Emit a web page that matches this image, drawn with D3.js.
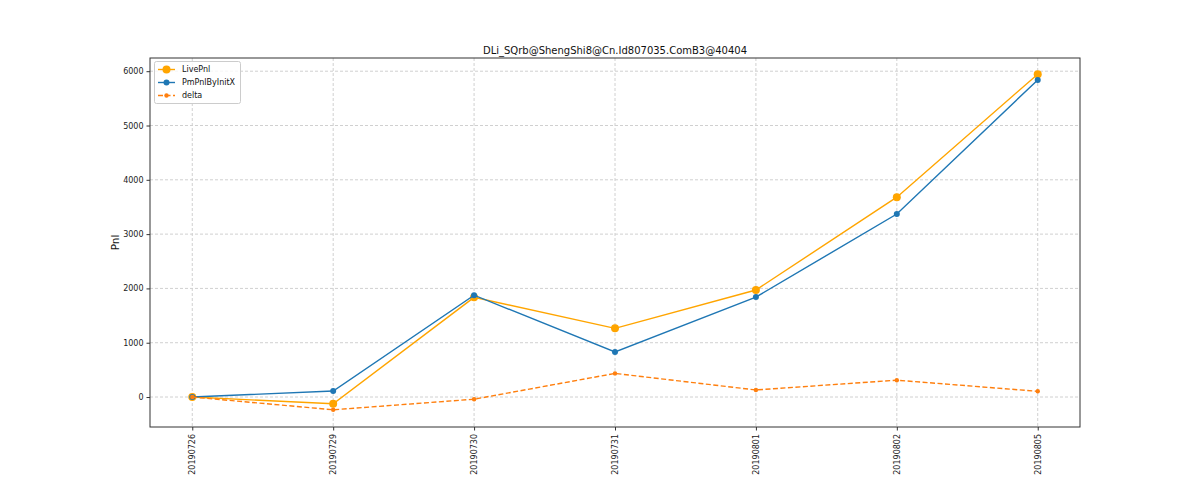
<!DOCTYPE html>
<html>
<head>
<meta charset="utf-8">
<script src="https://cdn.jsdelivr.net/npm/d3@7"></script>
<style>
  body { margin: 0; background: #fff; }
  text { font-family: "DejaVu Sans", sans-serif; }
</style>
</head>
<body>
<svg id="chart" width="1200" height="480"></svg>
<script>
// data
const dates = ["20190726", "20190729", "20190730", "20190731", "20190801", "20190802", "20190805"];
const livePnl = [0, -125, 1835, 1265, 1970, 3680, 5945];
const pmPnlByInitX = [0, 110, 1875, 830, 1840, 3370, 5840];
const delta = [0, -235, -40, 435, 130, 310, 105];
const yTicks = [0, 1000, 2000, 3000, 4000, 5000, 6000];
const title = "DLi_SQrb@ShengShi8@Cn.Id807035.ComB3@40404";

const svg = d3.select("#chart");
const axLeft = 150, axRight = 1080, axTop = 58, axBottom = 427;

// categorical x with matplotlib-like 5% margins
const x = d3.scaleLinear().domain([-0.3, dates.length - 1 + 0.3]).range([axLeft, axRight]);
const y = d3.scaleLinear().domain([-552, 6243]).range([axBottom, axTop]);

// grid
svg.append("g")
  .selectAll("line")
  .data(dates)
  .enter()
  .append("line")
  .attr("x1", (d, i) => x(i)).attr("x2", (d, i) => x(i))
  .attr("y1", axTop).attr("y2", axBottom)
  .attr("stroke", "#d0d0d0").attr("stroke-width", 1)
  .attr("stroke-dasharray", "3,2");

svg.append("g")
  .selectAll("line")
  .data(yTicks)
  .enter()
  .append("line")
  .attr("x1", axLeft).attr("x2", axRight)
  .attr("y1", (d) => y(d)).attr("y2", (d) => y(d))
  .attr("stroke", "#d0d0d0").attr("stroke-width", 1)
  .attr("stroke-dasharray", "3,2");

// axes
const xAxis = d3.axisBottom(x)
  .tickValues(d3.range(dates.length))
  .tickFormat((i) => dates[i])
  .tickSize(3.5).tickPadding(2);
const gx = svg.append("g").attr("transform", `translate(0,${axBottom})`).call(xAxis);
gx.select(".domain").remove();
gx.selectAll("line").attr("stroke", "#333");
gx.selectAll("text")
  .attr("font-size", 8)
  .attr("fill", "#222")
  .attr("text-anchor", "end")
  .attr("dy", "0.32em")
  .attr("transform", "rotate(-90)")
  .attr("x", -7)
  .attr("y", 0);

const yAxis = d3.axisLeft(y).tickValues(yTicks).tickFormat(d3.format("d")).tickSize(3.5).tickPadding(3);
const gy = svg.append("g").attr("transform", `translate(${axLeft},0)`).call(yAxis);
gy.select(".domain").remove();
gy.selectAll("line").attr("stroke", "#333");
gy.selectAll("text").attr("font-size", 8).attr("fill", "#222");

svg.append("rect")
  .attr("x", axLeft).attr("y", axTop)
  .attr("width", axRight - axLeft).attr("height", axBottom - axTop)
  .attr("fill", "none").attr("stroke", "#333").attr("stroke-width", 1);

// title and y label
svg.append("text")
  .attr("x", (axLeft + axRight) / 2).attr("y", 54)
  .attr("text-anchor", "middle")
  .attr("font-size", 10)
  .attr("fill", "#111")
  .text(title);

svg.append("text")
  .attr("transform", `translate(119,${(axTop + axBottom) / 2}) rotate(-90)`)
  .attr("text-anchor", "middle")
  .attr("font-size", 10.5)
  .attr("fill", "#111")
  .text("Pnl");

// series
const series = [
  { name: "LivePnl", values: livePnl, color: "#ffa500", r: 4, dash: null },
  { name: "PmPnlByInitX", values: pmPnlByInitX, color: "#1f77b4", r: 3, dash: null },
  { name: "delta", values: delta, color: "#ff7f0e", r: 2.2, dash: "5,2.5" }
];

const line = d3.line().x((d, i) => x(i)).y((d) => y(d));

series.forEach((s) => {
  svg.append("path")
    .datum(s.values)
    .attr("d", line)
    .attr("fill", "none")
    .attr("stroke", s.color)
    .attr("stroke-width", 1.4)
    .attr("stroke-dasharray", s.dash);
  svg.append("g")
    .selectAll("circle")
    .data(s.values)
    .enter()
    .append("circle")
    .attr("cx", (d, i) => x(i))
    .attr("cy", (d) => y(d))
    .attr("r", s.r)
    .attr("fill", s.color);
});

// legend
const legend = svg.append("g");
legend.append("rect")
  .attr("x", 154.5).attr("y", 61.5)
  .attr("width", 86).attr("height", 42)
  .attr("rx", 2)
  .attr("fill", "#fff").attr("fill-opacity", 0.8)
  .attr("stroke", "#ccc");

series.forEach((s, i) => {
  const ly = 69.5 + i * 13;
  legend.append("line")
    .attr("x1", 158).attr("x2", 175)
    .attr("y1", ly).attr("y2", ly)
    .attr("stroke", s.color).attr("stroke-width", 1.4)
    .attr("stroke-dasharray", s.dash);
  legend.append("circle")
    .attr("cx", 166.5).attr("cy", ly).attr("r", s.r)
    .attr("fill", s.color);
  legend.append("text")
    .attr("x", 182).attr("y", ly)
    .attr("dy", "0.35em")
    .attr("font-size", 8)
    .attr("fill", "#111")
    .text(s.name);
});
</script>
</body>
</html>
